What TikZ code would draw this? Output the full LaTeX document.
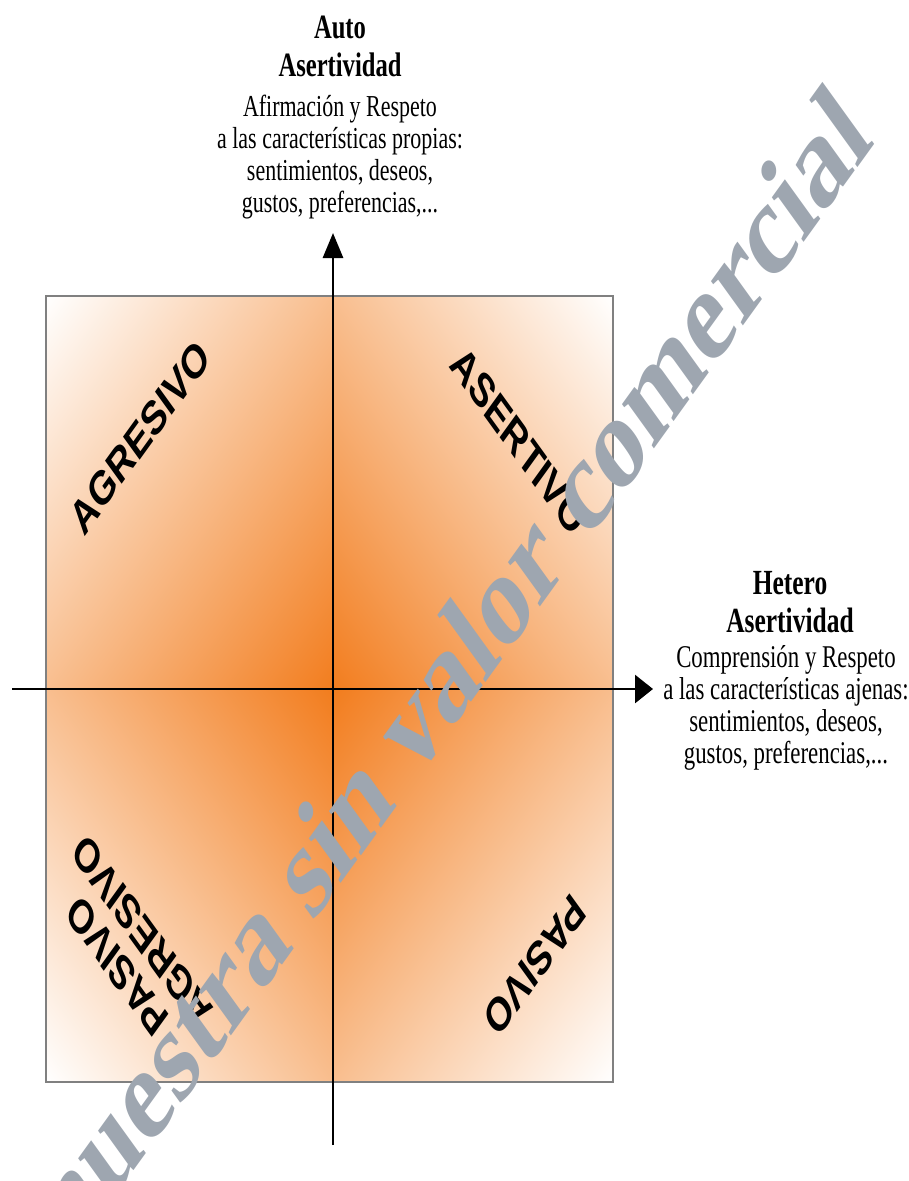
\documentclass[tikz,border=0pt]{standalone}
\usepackage{fontspec}
\setmainfont{Liberation Serif}
\setsansfont{Liberation Sans}
\usepackage{tikz}
\usetikzlibrary{arrows.meta, positioning}
\definecolor{quadorange}{RGB}{242,125,30}
\definecolor{markgray}{RGB}{158,166,176}
\tikzstyle{quadframe} = [draw=black!50, line width=0.8pt]
\tikzstyle{axisline} = [line width=1.6pt]
\tikzstyle{axistitle} = [inner sep=0pt, align=center, yscale=1.386, font=\fontsize{14}{15.6}\selectfont\bfseries]
\tikzstyle{axisdesc} = [inner sep=0pt, align=center, yscale=1.386, font=\fontsize{12.5}{13.1}\selectfont]
\tikzstyle{quadlabel} = [inner sep=0pt, align=center, yscale=1.386, font=\fontsize{19.5}{20}\selectfont\sffamily\bfseries]
\tikzstyle{watermark} = [inner sep=0pt, yscale=1.386, rotate=45, text=markgray, font=\fontsize{56}{60}\selectfont\bfseries]

\begin{document}
\begin{tikzpicture}[x=0.02cm, y=-0.02cm]
\useasboundingbox (0,0) rectangle (909,1181);
\clip (0,0) rectangle (909,1181);

% Quadrants, orange towards the centre, white at the outer corner
\foreach \ang/\qx/\qy/\qd in {45/46/296/404, -45/613/296/399, 135/46/1082/403, -135/613/1082/398} {
  \begin{scope}
    \clip (\qx,\qy) rectangle (333,690);
    \begin{scope}[transform canvas={shift={(333,690)}, yscale=1.386, rotate=\ang}]
      \shade [top color=white, bottom color=quadorange] (-430,0) rectangle (430,-\qd);
    \end{scope}
  \end{scope}
}
\draw [quadframe] (46,296) rectangle (613,1082);

% Axes
\coordinate (xstart) at (12,689);
\coordinate (xend) at (653,689);
\coordinate (ystart) at (333,1145);
\coordinate (yend) at (333,233);
\draw [axisline, -{Triangle[length=0.36cm, width=0.56cm]}] (xstart) -- (xend);
\draw [axisline, -{Triangle[length=0.5cm, width=0.4cm]}] (ystart) -- (yend);

% Axis texts
\node (autotitle) [axistitle] at (340,46) {Auto\\Asertividad};
\node (autodesc) [axisdesc] at (340,157) {Afirmación y Respeto\\a las características propias:\\sentimientos, deseos,\\gustos, preferencias,...};
\node (herotitle) [axistitle, font=\fontsize{14.5}{15.6}\selectfont\bfseries] at (790,602) {Hetero\\Asertividad};
\node (herodesc) [axisdesc, font=\fontsize{13}{13.2}\selectfont] at (786,708) {Comprensión y Respeto\\a las características ajenas:\\sentimientos, deseos,\\gustos, preferencias,...};

% Quadrant labels
\node (agresivo) [quadlabel, rotate=45] at (140,437) {AGRESIVO};
\node (asertivo) [quadlabel, rotate=-45] at (519,441) {ASERTIVO};
\node (pasagr) [quadlabel, rotate=135] at (130,949) {PASIVO\\AGRESIVO};
\node (pasivo) [quadlabel, rotate=-135] at (535,965) {PASIVO};

% Watermark
\node (muestra) [watermark] at (440,681) {muestra sin valor comercial};

\end{tikzpicture}
\end{document}
